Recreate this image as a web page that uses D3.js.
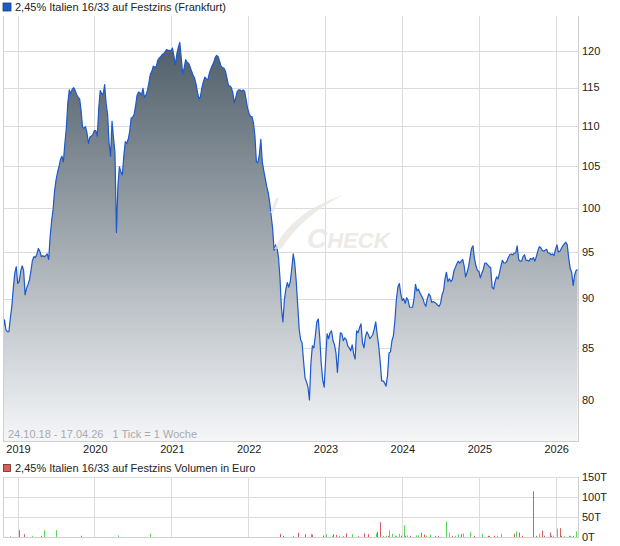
<!DOCTYPE html>
<html>
<head>
<meta charset="utf-8">
<script src="https://cdn.jsdelivr.net/npm/d3@7"></script>
<style>
body { margin: 0; background: #fff; }
svg { display: block; font-family: Arial, "Liberation Sans", sans-serif; }
</style>
</head>
<body>
<div id="chart"></div>
<script>
// one tick = one week, starting 24.10.18
var startDate = new Date(2018, 9, 24);
var endDate = new Date(2026, 3, 17);
var stepDays = 7;

var priceVals = [
  86.8, 87.8, 86.8, 86.6, 86.6, 88.0, 89.2, 91.1, 92.7, 93.4,
  91.6, 91.8, 92.9, 93.5, 93.0, 90.4, 91.1, 91.5, 92.0, 93.0,
  94.1, 94.5, 94.4, 94.8, 95.4, 95.1, 94.5, 94.6, 94.5, 94.6,
  94.8, 94.2, 96.7, 98.5, 99.8, 102.0, 103.3, 104.2, 104.9, 105.8,
  106.2, 105.5, 107.8, 109.7, 113.0, 114.7, 114.2, 114.8, 115.0, 114.6,
  114.1, 113.7, 113.5, 112.0, 109.8, 109.7, 109.9, 109.1, 107.8, 108.6,
  108.7, 108.9, 109.4, 109.4, 108.7, 112.3, 114.6, 114.2, 114.1, 115.4,
  112.9, 111.5, 107.8, 106.2, 110.6, 108.5, 106.6, 97.2, 102.6, 104.9,
  104.3, 103.9, 106.2, 108.0, 107.8, 108.3, 109.3, 111.0, 111.1, 111.5,
  112.6, 114.0, 114.4, 114.3, 114.0, 114.9, 113.7, 114.0, 114.6, 115.6,
  116.8, 117.2, 117.9, 117.8, 117.8, 118.7, 119.0, 119.2, 119.5, 119.6,
  119.9, 120.2, 120.1, 120.1, 120.0, 120.4, 119.3, 118.1, 119.6, 120.5,
  121.2, 119.0, 116.8, 117.7, 118.8, 118.4, 118.3, 117.8, 117.2, 116.7,
  116.3, 115.5, 114.4, 113.5, 113.8, 115.0, 115.8, 116.4, 116.2, 116.0,
  116.9, 117.5, 118.0, 118.4, 119.1, 119.4, 119.2, 118.6, 117.9, 117.7,
  117.6, 117.2, 116.3, 115.3, 115.2, 115.0, 114.3, 113.0, 113.7, 114.5,
  114.7, 114.7, 114.5, 114.7, 114.5, 113.4, 112.3, 111.6, 111.2, 111.2,
  110.4, 108.7, 105.5, 105.4, 106.4, 108.3, 105.5, 104.4, 103.5, 102.5,
  101.8, 100.7, 99.1, 97.7, 95.2, 95.8, 95.5, 94.4, 92.2, 89.0,
  87.6, 89.9, 91.0, 91.7, 91.2, 91.8, 93.2, 94.8, 93.8, 91.9,
  89.4, 86.9, 85.8, 85.5, 83.7, 82.1, 81.7, 81.2, 80.0, 83.5,
  85.2, 85.0, 86.2, 87.6, 87.9, 86.0, 83.5, 81.9, 81.2, 83.9,
  86.4, 85.9, 86.5, 86.7, 85.7, 85.3, 84.5, 82.6, 84.8, 86.5,
  86.4, 85.7, 86.0, 85.8, 85.2, 85.0, 84.7, 85.3, 84.4, 83.9,
  86.7, 86.5, 87.0, 87.4, 85.5, 85.0, 86.1, 86.6, 86.3, 85.9,
  86.1, 86.3, 86.9, 87.6, 86.3, 85.2, 83.7, 81.8, 81.8, 81.6,
  81.3, 82.3, 84.5, 84.6, 85.7, 86.2, 87.7, 89.9, 91.2, 91.6,
  90.5, 89.8, 90.0, 89.5, 90.1, 89.8, 89.1, 89.1, 89.1, 90.0,
  91.5, 90.8, 91.0, 90.6, 90.3, 90.0, 89.5, 89.2, 90.0, 90.5,
  90.3, 89.6, 89.7, 89.6, 89.5, 89.3, 89.2, 89.5, 90.4, 90.8,
  92.1, 92.8, 91.8, 92.1, 91.8, 92.0, 92.9, 93.3, 93.7, 94.0,
  93.8, 94.0, 94.2, 93.5, 92.3, 92.8, 93.4, 94.4, 95.4, 95.7,
  94.3, 93.5, 93.0, 92.9, 92.2, 92.7, 93.1, 93.8, 93.8, 93.6,
  93.4, 93.3, 91.2, 91.0, 91.8, 92.3, 92.1, 92.7, 93.5, 94.1,
  93.8, 93.8, 94.0, 94.4, 94.7, 94.8, 94.7, 94.9, 94.9, 95.7,
  94.2, 94.0, 94.0, 94.5, 94.7, 94.1, 94.1, 94.0, 94.3, 94.2,
  94.4, 94.0, 94.5, 95.1, 95.6, 95.5, 95.2, 95.1, 95.2, 95.3,
  94.9, 94.9, 94.7, 94.8, 94.6, 95.3, 95.8, 95.0, 95.1, 95.4,
  95.7, 95.9, 96.1, 95.8, 94.3, 93.2, 92.8, 91.4, 92.5, 93.0, 93.1
];

var priceTicks = [80, 85, 90, 95, 100, 105, 110, 115, 120];
var yearTicks = [2019, 2020, 2021, 2022, 2023, 2024, 2025, 2026];

// volume: week number after 24.10.18, value in thousand euro, 1 = up week, -1 = down week
var volWeeks = [5, 11, 14, 20, 26, 28, 36, 53, 78, 100,
  188, 190, 197, 200, 205, 209, 210, 217, 219, 223, 224, 226, 228, 231, 233, 237, 241, 245, 248,
  253, 254, 256, 258, 260, 261, 262, 264, 266, 267, 269, 270, 272, 273, 274, 276, 280, 282, 284,
  286, 287, 290, 293, 295, 301, 303, 305, 307, 309, 311, 312, 317, 320, 325, 329, 330, 333, 335,
  338, 347, 348, 350, 352, 360, 362, 364, 366, 367, 371, 372, 373, 376, 378, 379, 381, 384, 385,
  387, 389];
var volValues = [2, 17, 7, 3, 3, 17, 17, 3, 4, 8,
  8, 3, 3, 11, 7, 8, 6, 4, 7, 2, 7, 5, 3, 2, 9, 7, 2, 9, 7,
  9, 13, 37, 3, 3, 3, 17, 8, 3, 3, 8, 3, 29, 3, 4, 3, 4, 4, 11,
  6, 3, 6, 3, 3, 39, 11, 3, 3, 7, 7, 9, 12, 3, 8, 3, 3, 3, 3,
  8, 8, 14, 11, 3, 114, 3, 8, 16, 3, 11, 3, 3, 21, 22, 3, 3, 3, 3,
  3, 14];
var volDir = [1, -1, -1, 1, -1, 1, 1, -1, 1, 1,
  -1, -1, 1, -1, -1, 1, -1, -1, 1, 1, -1, -1, 1, -1, -1, 1, -1, -1, -1,
  1, -1, -1, 1, 1, -1, 1, 1, 1, 1, 1, -1, 1, -1, 1, -1, 1, 1, -1,
  -1, 1, 1, -1, -1, 1, 1, -1, 1, 1, -1, 1, 1, -1, 1, -1, -1, -1, 1,
  1, -1, 1, -1, -1, -1, -1, 1, -1, -1, -1, -1, 1, 1, -1, -1, 1, -1, 1,
  -1, 1];
var volTicks = [0, 50, 100, 150];
var volTickLabels = ["0T", "50T", "100T", "150T"];

var titlePrice = "2,45% Italien 16/33 auf Festzins (Frankfurt)";
var titleVol = "2,45% Italien 16/33 auf Festzins Volumen in Euro";
var rangeText = "24.10.18 - 17.04.26   1 Tick = 1 Woche";

var W = 620, H = 546;
var left = 3, right = 578;
var top1 = 16, bot1 = 441;
var top2 = 477, bot2 = 537;

var priceData = priceVals.map(function(v, i) {
  return { date: d3.timeDay.offset(startDate, i * stepDays), value: v };
});
var volData = volWeeks.map(function(w, i) {
  return { date: d3.timeDay.offset(startDate, w * 7), value: volValues[i], dir: volDir[i] };
});

var x = d3.scaleTime().domain([startDate, endDate]).range([left, right]);
var y = d3.scaleLog().domain([80, 120]).range([400, 51]);
var yv = d3.scaleLinear().domain([0, 150]).range([bot2, top2]);

var svg = d3.select("#chart").append("svg")
  .attr("width", W)
  .attr("height", H);

var defs = svg.append("defs");
var grad = defs.append("linearGradient")
  .attr("id", "areaGrad")
  .attr("gradientUnits", "userSpaceOnUse")
  .attr("x1", 0).attr("y1", 45).attr("x2", 0).attr("y2", bot1);
grad.append("stop").attr("offset", "0%").attr("stop-color", "#505f6a");
grad.append("stop").attr("offset", "100%").attr("stop-color", "#f5f6f8");

defs.append("clipPath").attr("id", "clip1")
  .append("rect").attr("x", left).attr("y", top1).attr("width", right - left).attr("height", bot1 - top1);

var gridColor = "#dcdcdc";

// ---- price panel ----
svg.append("rect").attr("x", 3).attr("y", 3).attr("width", 8).attr("height", 8)
  .attr("fill", "#1f5bc4").attr("stroke", "#183f80").attr("stroke-width", 0.8);
svg.append("text").attr("x", 15).attr("y", 11)
  .attr("font-size", 11).attr("fill", "#222").text(titlePrice);

var g1 = svg.append("g");
g1.selectAll("line.hgrid").data(priceTicks).enter().append("line")
  .attr("x1", left).attr("x2", right)
  .attr("y1", function(d) { return Math.round(y(d)) + 0.5; })
  .attr("y2", function(d) { return Math.round(y(d)) + 0.5; })
  .attr("stroke", gridColor);
g1.selectAll("line.vgrid").data(yearTicks).enter().append("line")
  .attr("x1", function(d) { return Math.round(x(new Date(d, 0, 1))) + 0.5; })
  .attr("x2", function(d) { return Math.round(x(new Date(d, 0, 1))) + 0.5; })
  .attr("y1", top1).attr("y2", bot1)
  .attr("stroke", gridColor);

var plot = g1.append("g").attr("clip-path", "url(#clip1)");
var area = d3.area()
  .x(function(d) { return x(d.date); })
  .y0(bot1)
  .y1(function(d) { return y(d.value); });
var line = d3.line()
  .x(function(d) { return x(d.date); })
  .y(function(d) { return y(d.value); });

plot.append("path").datum(priceData).attr("d", area).attr("fill", "url(#areaGrad)");
plot.append("path").datum(priceData).attr("d", line)
  .attr("fill", "none").attr("stroke", "#1b59cc").attr("stroke-width", 1.2)
  .attr("stroke-linejoin", "round");

// watermark
var wm = svg.append("g").attr("opacity", 0.75).attr("fill", "#e9e4de");
wm.append("path").attr("d", "M274,249 Q292,212 343,195 Q302,216 281,249 Z");
wm.append("path").attr("d", "M270,213 L276,198 L279,198 L273,213 Z");
var wt = wm.append("text").attr("x", 307).attr("y", 248)
  .attr("font-style", "italic").attr("font-weight", "bold");
wt.append("tspan").attr("font-size", 28).text("C");
wt.append("tspan").attr("font-size", 22).text("HECK");

// borders
g1.append("line").attr("x1", left + 0.5).attr("x2", left + 0.5).attr("y1", top1).attr("y2", bot1).attr("stroke", "#cfcfcf");
g1.append("line").attr("x1", right + 0.5).attr("x2", right + 0.5).attr("y1", top1).attr("y2", bot1 + 1).attr("stroke", "#cfcfcf");
g1.append("line").attr("x1", left).attr("x2", right + 1).attr("y1", bot1 + 0.5).attr("y2", bot1 + 0.5).attr("stroke", "#cfcfcf");

svg.append("text").attr("x", 8).attr("y", 438)
  .attr("font-size", 11).attr("fill", "#a9a9b0")
  .style("white-space", "pre").text(rangeText);

// y labels
svg.selectAll("text.ylab").data(priceTicks).enter().append("text")
  .attr("x", 582).attr("y", function(d) { return y(d); })
  .attr("dy", "0.35em").attr("font-size", 11).attr("fill", "#222")
  .text(function(d) { return d; });

// year labels
svg.selectAll("text.xlab").data(yearTicks).enter().append("text")
  .attr("x", function(d) { return x(new Date(d, 0, 1)) + 1; })
  .attr("y", 453).attr("text-anchor", "middle")
  .attr("font-size", 11).attr("fill", "#222")
  .text(function(d) { return d; });

// ---- volume panel ----
svg.append("rect").attr("x", 3.5).attr("y", 464.5).attr("width", 7).attr("height", 7)
  .attr("fill", "#d9605a").attr("stroke", "#6b2a26").attr("stroke-width", 0.8);
svg.append("text").attr("x", 15).attr("y", 472)
  .attr("font-size", 11).attr("fill", "#222").text(titleVol);

var g2 = svg.append("g");
g2.selectAll("line.hgrid").data(volTicks).enter().append("line")
  .attr("x1", left).attr("x2", right)
  .attr("y1", function(d) { return Math.round(yv(d)) + 0.5; })
  .attr("y2", function(d) { return Math.round(yv(d)) + 0.5; })
  .attr("stroke", function(d) { return d === 0 ? "#cfcfcf" : gridColor; });
g2.selectAll("line.vgrid").data(yearTicks).enter().append("line")
  .attr("x1", function(d) { return Math.round(x(new Date(d, 0, 1))) + 0.5; })
  .attr("x2", function(d) { return Math.round(x(new Date(d, 0, 1))) + 0.5; })
  .attr("y1", top2).attr("y2", bot2)
  .attr("stroke", gridColor);
g2.append("line").attr("x1", left + 0.5).attr("x2", left + 0.5).attr("y1", top2).attr("y2", bot2).attr("stroke", "#cfcfcf");
g2.append("line").attr("x1", right + 0.5).attr("x2", right + 0.5).attr("y1", top2).attr("y2", bot2 + 1).attr("stroke", "#cfcfcf");

g2.selectAll("rect.vol").data(volData).enter().append("rect")
  .attr("x", function(d) { return Math.round(x(d.date)); })
  .attr("width", 1)
  .attr("y", function(d) { return yv(d.value); })
  .attr("height", function(d) { return bot2 - yv(d.value); })
  .attr("fill", function(d) { return d.dir > 0 ? "#57d957" : "#d95b5b"; });

svg.selectAll("text.vlab").data(volTicks).enter().append("text")
  .attr("x", 582).attr("y", function(d) { return yv(d); })
  .attr("dy", "0.35em").attr("font-size", 11).attr("fill", "#222")
  .text(function(d, i) { return volTickLabels[i]; });
</script>
</body>
</html>
